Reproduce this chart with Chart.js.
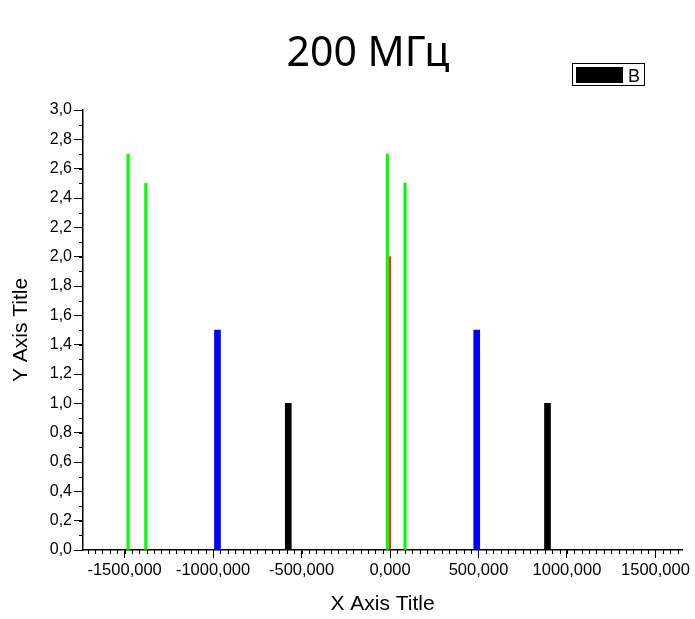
<!DOCTYPE html>
<html>
<head>
<meta charset="utf-8">
<script src="https://cdn.jsdelivr.net/npm/chart.js@4.4.1/dist/chart.umd.min.js"></script>
<style>
    html, body { margin: 0; padding: 0; background: #fff; }
    canvas { display: block; }
</style>
</head>
<body>
<canvas id="chart" width="695" height="619"></canvas>
<script>
const chartTitle = '200 МГц';
const xAxisTitle = 'X Axis Title';
const yAxisTitle = 'Y Axis Title';
const legendLabel = 'B';

// axis ranges and major ticks
const xRange = [-1735, 1650];
const xTickValues = [-1500, -1000, -500, 0, 500, 1000, 1500];
const yRange = [0, 3];
const yTickStep = 0.2;

// the lines
const greenX = [-1480, -1380, -15, 85];
const greenY = [2.7, 2.5, 2.7, 2.5];
const blueX = [-975, 490];
const blueY = [1.5, 1.5];
const blackX = [-575, 890];
const blackY = [1.0, 1.0];
const redX = [0];
const redY = [2.0];

function toPoints(xs, ys) {
    return xs.map((x, i) => ({ x: x, y: ys[i] }));
}

function formatComma(value, digits) {
    return value.toFixed(digits).replace('.', ',');
}

// Origin style minor ticks, drawn outward from both axes
const minorTicks = {
    id: 'minorTicks',
    afterDraw(chart) {
        const ctx = chart.ctx;
        const xs = chart.scales.x;
        const ys = chart.scales.y;
        const area = chart.chartArea;
        ctx.save();
        ctx.strokeStyle = '#000';
        ctx.lineWidth = 1;
        ctx.beginPath();
        const xStep = 500 / 12;
        for (let i = Math.ceil(xs.min / xStep); i <= Math.floor(xs.max / xStep); i++) {
            const px = Math.round(xs.getPixelForValue(i * xStep)) + 0.5;
            ctx.moveTo(px, area.bottom);
            ctx.lineTo(px, area.bottom + 4);
        }
        const yStep = 0.1;
        for (let i = 0; i <= Math.round(ys.max / yStep); i++) {
            const py = Math.round(ys.getPixelForValue(i * yStep)) + 0.5;
            ctx.moveTo(area.left, py);
            ctx.lineTo(area.left - 4, py);
        }
        ctx.stroke();
        ctx.restore();
    }
};

// big title and the boxed legend in the top right
const titleAndLegend = {
    id: 'titleAndLegend',
    afterDraw(chart) {
        const ctx = chart.ctx;
        const ds = chart.data.datasets.find(d => d.label === legendLabel);
        ctx.save();
        ctx.fillStyle = '#000';
        ctx.font = '41px "Noto Sans"';
        ctx.textAlign = 'center';
        ctx.textBaseline = 'alphabetic';
        ctx.fillText(chartTitle, 368, 66);

        ctx.strokeStyle = '#000';
        ctx.lineWidth = 1;
        ctx.strokeRect(572.5, 63.5, 72, 22);
        ctx.fillStyle = ds.backgroundColor;
        ctx.fillRect(576, 67, 47, 16);
        ctx.fillStyle = '#000';
        ctx.font = '18px "Liberation Sans"';
        ctx.textAlign = 'left';
        ctx.fillText(ds.label, 628, 82);
        ctx.restore();
    }
};

function init() {
    const canvas = document.getElementById('chart');

    const datasets = [
        { label: legendLabel, data: toPoints(blackX, blackY), backgroundColor: '#000000', barThickness: 6 },
        { label: 'C', data: toPoints(blueX, blueY), backgroundColor: '#0000ff', barThickness: 6 },
        { label: 'D', data: toPoints(greenX, greenY), backgroundColor: '#00ff00', barThickness: 2.5 },
        { label: 'E', data: toPoints(redX, redY), backgroundColor: '#ff0000', barThickness: 1 }
    ];

    new Chart(canvas, {
        type: 'bar',
        data: { datasets: datasets },
        options: {
            responsive: false,
            animation: false,
            layout: { padding: { top: 110, right: 13, left: 0, bottom: 0 } },
            datasets: { bar: { grouped: false, borderWidth: 0 } },
            plugins: {
                legend: { display: false },
                title: { display: false },
                tooltip: { enabled: false }
            },
            scales: {
                x: {
                    type: 'linear',
                    offset: false,
                    min: xRange[0],
                    max: xRange[1],
                    afterBuildTicks: scale => {
                        scale.ticks = xTickValues.map(v => ({ value: v }));
                    },
                    afterFit: scale => { scale.height = 69; },
                    grid: { display: true, offset: false, drawOnChartArea: false, tickLength: 8, color: '#000', tickWidth: 1 },
                    border: { display: true, color: '#000', width: 1.5 },
                    ticks: {
                        color: '#000',
                        font: { family: 'Liberation Sans', size: 16.5 },
                        padding: 3,
                        maxRotation: 0,
                        autoSkip: false,
                        callback: v => formatComma(v, 3)
                    },
                    title: {
                        display: true,
                        text: xAxisTitle,
                        color: '#000',
                        font: { family: 'Liberation Sans', size: 21 },
                        padding: { top: 0, bottom: 2 }
                    }
                },
                y: {
                    min: yRange[0],
                    max: yRange[1],
                    afterFit: scale => { scale.width = 83; },
                    grid: { display: true, offset: false, drawOnChartArea: false, tickLength: 9, color: '#000', tickWidth: 1 },
                    border: { display: true, color: '#000', width: 1.5 },
                    ticks: {
                        stepSize: yTickStep,
                        color: '#000',
                        font: { family: 'Liberation Sans', size: 16 },
                        padding: 2,
                        autoSkip: false,
                        callback: v => formatComma(v, 1)
                    },
                    title: {
                        display: true,
                        text: yAxisTitle,
                        color: '#000',
                        font: { family: 'Liberation Sans', size: 21 },
                        padding: { top: 9, bottom: 0 }
                    }
                }
            }
        },
        plugins: [minorTicks, titleAndLegend]
    });
}

window.addEventListener('load', init);
</script>
</body>
</html>
